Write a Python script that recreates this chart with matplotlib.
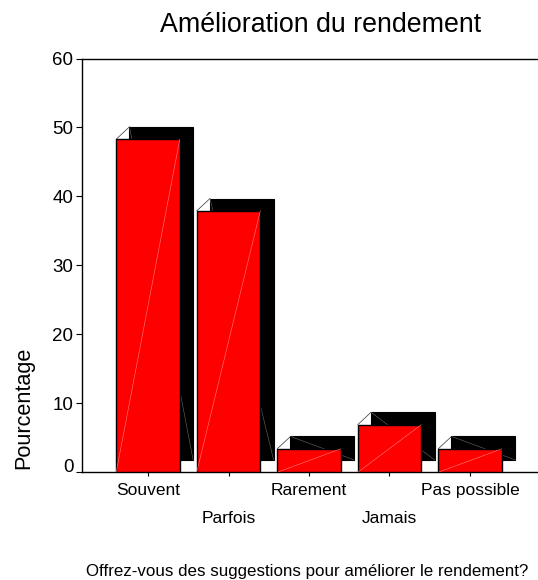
import numpy as np
import matplotlib.pyplot as plt

plt.rcParams['font.family'] = ['Liberation Sans', 'DejaVu Sans']

# données
categories = ['Souvent', 'Parfois', 'Rarement', 'Jamais', 'Pas possible']
pourcentage = [48.3, 37.9, 3.4, 6.9, 3.4]

W, H = 538, 580
fig = plt.figure(figsize=(W / 100, H / 100), dpi=100)

# axes qui dépassent à droite comme dans l'original
ax = fig.add_axes([82.3 / W, (H - 472.3) / H, (580 - 82.3) / W, (472.3 - 58.5) / H])

x = np.arange(len(categories))
v = np.array(pourcentage)
w = 0.79
dx, dy = 0.165, 1.8  # profondeur de l'ombre

# ombre noire
ax.bar(x + dx, v, width=w, bottom=dy, color='black', edgecolor='black',
       linewidth=0.8, zorder=2)
# face rouge
ax.bar(x, v, width=w, color='#ff0000', edgecolor='black', linewidth=1.0, zorder=3)

# petits traits de rendu (diagonales, coins)
for xi, vi in zip(x, v):
    ax.plot([xi + dx - w / 2, xi + dx + w / 2], [vi + dy, dy],
            color='#6a6a6a', lw=0.4, zorder=2.5)
    ax.plot([xi - w / 2, xi + w / 2], [0, vi],
            color='#ff8080', lw=0.4, zorder=4)
    ax.plot([xi - w / 2, xi + dx - w / 2], [vi, vi + dy],
            color='#333333', lw=0.5, zorder=1.5)

ax.set_xlim(-(148 - 82.3) / 80.5, (580 - 148) / 80.5)
ax.set_ylim(0, 60)
ax.set_yticks([0, 10, 20, 30, 40, 50, 60])
ax.set_xticks(x)
ax.set_xticklabels(categories, fontsize=12.5)
ax.tick_params(axis='y', labelsize=13.5, length=4.3, width=0.8, pad=2.2)
ax.tick_params(axis='x', length=2.9, width=0.8)

for s in ['left', 'top', 'bottom', 'right']:
    ax.spines[s].set_linewidth(1.0)

# étiquettes en quinconce
for i, tick in enumerate(ax.xaxis.get_major_ticks()):
    tick.set_pad(4.5 if i % 2 == 0 else 24.7)

ax.yaxis.get_major_ticks()[0].label1.set_verticalalignment('baseline')

fig.text(321 / W, 1 - 32 / H, 'Amélioration du rendement', fontsize=19.3,
         ha='center', va='baseline')
fig.text(24 / W, 1 - 408 / H, 'Pourcentage', fontsize=15.6, rotation=90,
         ha='center', va='center')
fig.text(86 / W, 4 / H, 'Offrez-vous des suggestions pour améliorer le rendement?',
         fontsize=12.2, ha='left', va='baseline')

fig.savefig('out.png', dpi=100)
